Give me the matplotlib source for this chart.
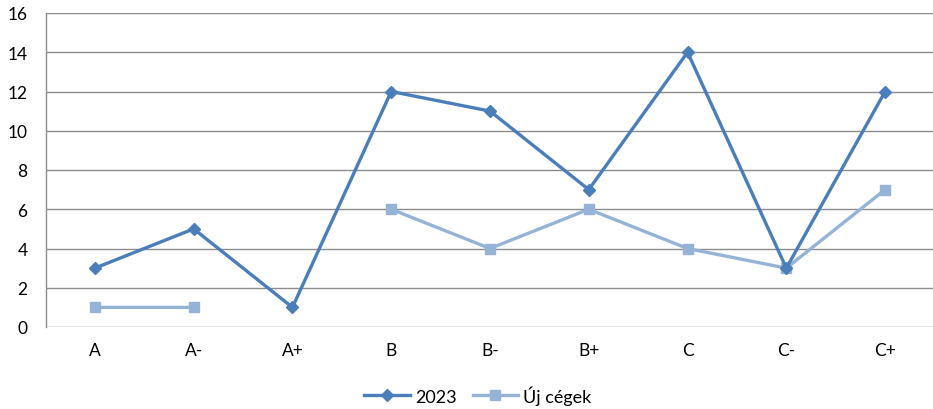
import numpy as np
import matplotlib
matplotlib.use("Agg")
import matplotlib.pyplot as plt

categories = ["A", "A-", "A+", "B", "B-", "B+", "C", "C-", "C+"]
values_2023 = [3, 5, 1, 12, 11, 7, 14, 3, 12]
values_new = [1, 1, np.nan, 6, 4, 6, 4, 3, 7]
y_ticks = [0, 2, 4, 6, 8, 10, 12, 14, 16]

plt.rcParams["font.family"] = ["Lato", "DejaVu Sans"]

fig = plt.figure(figsize=(9.33, 4.10), dpi=100)
ax = fig.add_axes([45.5 / 933, 1 - 328 / 410, 889 / 933, 314 / 410])

x = np.arange(len(categories))
ax.plot(x, values_2023, color="#4A7EBB", lw=2.4, marker="D", ms=6,
        label="2023", zorder=3)
ax.plot(x, values_new, color="#95B3D7", lw=2.4, marker="s", ms=7.5,
        label="Új cégek", zorder=2)

ax.set_xlim(-0.5, len(categories) - 0.5)
ax.set_ylim(0, 16)
ax.set_yticks(y_ticks)
ax.set_xticks(x)
ax.set_xticklabels(categories)
ax.yaxis.grid(True, color="#8C8C8C", lw=1.0)
ax.set_axisbelow(True)
for side in ["top", "right", "bottom"]:
    ax.spines[side].set_visible(False)
ax.spines["left"].set_color("#8C8C8C")
ax.spines["left"].set_linewidth(1.0)
ax.tick_params(axis="both", length=0, labelsize=12.5, colors="black")
ax.tick_params(axis="y", pad=13)
ax.tick_params(axis="x", pad=11)

fig.legend(loc="center", bbox_to_anchor=(478 / 933, 1 - 396 / 410), ncol=2,
           frameon=False, fontsize=13, handlelength=2.5, columnspacing=0.9,
           handletextpad=0.3)

fig.savefig("out.png", dpi=100, facecolor="white")
